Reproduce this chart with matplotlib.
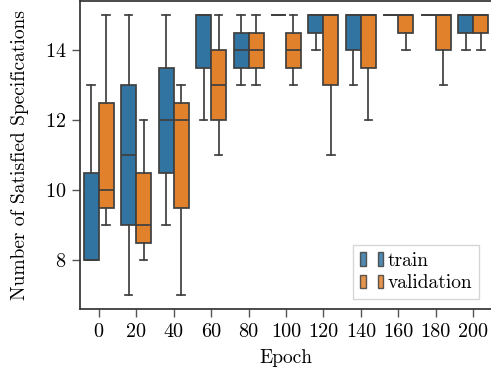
import matplotlib
matplotlib.use('Agg')
import matplotlib.pyplot as plt
from matplotlib.patches import Patch
from matplotlib.legend_handler import HandlerTuple

plt.rcParams['font.family'] = ['cmr10', 'DejaVu Serif']
plt.rcParams['mathtext.fontset'] = 'cm'
plt.rcParams['axes.formatter.use_mathtext'] = True

# Epoch categories
epochs = [0, 20, 40, 60, 80, 100, 120, 140, 160, 180, 200]

# train box stats
train_lo  = [8, 7, 9, 12, 13, 15, 14, 13, 15, 15, 14]
train_q1  = [8, 9, 10.5, 13.5, 13.5, 15, 14.5, 14, 15, 15, 14.5]
train_med = [8, 11, 12, 15, 14, 15, 15, 15, 15, 15, 15]
train_q3  = [10.5, 13, 13.5, 15, 14.5, 15, 15, 15, 15, 15, 15]
train_hi  = [13, 15, 15, 15, 15, 15, 15, 15, 15, 15, 15]

# validation box stats
val_lo  = [9, 8, 7, 11, 13, 13, 11, 12, 14, 13, 14]
val_q1  = [9.5, 8.5, 9.5, 12, 13.5, 13.5, 13, 13.5, 14.5, 14, 14.5]
val_med = [10, 9, 12, 13, 14, 14, 15, 15, 15, 15, 15]
val_q3  = [12.5, 10.5, 12.5, 14, 14.5, 14.5, 15, 15, 15, 15, 15]
val_hi  = [15, 12, 13, 15, 15, 15, 15, 15, 15, 15, 15]

blue = '#3274a1'
orange = '#e1812c'
edge = '#3f3f3f'


def stats(lo, q1, med, q3, hi):
    return [dict(whislo=a, q1=b, med=c, q3=d, whishi=e, fliers=[])
            for a, b, c, d, e in zip(lo, q1, med, q3, hi)]


fig = plt.figure(figsize=(4.91, 3.75), dpi=100)
ax = fig.add_axes([80 / 491, 66 / 375, 412 / 491, 308 / 375])

w = 0.4
for st, off, col in [(stats(train_lo, train_q1, train_med, train_q3, train_hi), -0.2, blue),
                     (stats(val_lo, val_q1, val_med, val_q3, val_hi), 0.2, orange)]:
    pos = [i + off for i in range(len(epochs))]
    ax.bxp(st, positions=pos, widths=w, patch_artist=True, showfliers=False,
           boxprops=dict(facecolor=col, edgecolor=edge, linewidth=1.25),
           whiskerprops=dict(color=edge, linewidth=1.25),
           capprops=dict(color=edge, linewidth=1.25),
           medianprops=dict(color=edge, linewidth=1.25))

ax.set_xlim(-0.5, len(epochs) - 0.5)
ax.set_ylim(6.6, 15.4)
ax.set_xticks(range(len(epochs)))
ax.set_xticklabels([str(e) for e in epochs])
ax.set_yticks([8, 10, 12, 14])
ax.tick_params(labelsize=14.5, length=6, width=1, pad=4, color='#555555')
ax.set_xlabel('Epoch', fontsize=14, labelpad=6)
ax.set_ylabel('Number of Satisfied Specifications', fontsize=14, labelpad=11)
for s in ax.spines.values():
    s.set_linewidth(1.25)
    s.set_color('#333333')

h_train = (Patch(facecolor=blue, edgecolor=edge, alpha=0.85), Patch(facecolor=blue, edgecolor=edge, alpha=0.85))
h_val = (Patch(facecolor=orange, edgecolor=edge, alpha=0.85), Patch(facecolor=orange, edgecolor=edge, alpha=0.85))
leg = ax.legend([h_train, h_val], ['train', 'validation'],
                handler_map={tuple: HandlerTuple(ndivide=None, pad=0.6)},
                loc='lower right', bbox_to_anchor=(0.968, 0.032), borderaxespad=0,
                fontsize=14, handlelength=1.2, handletextpad=0.2, fancybox=False,
                borderpad=0.35, labelspacing=0.25)
leg.get_frame().set_edgecolor('#cccccc')

fig.savefig('out.png', dpi=100)
